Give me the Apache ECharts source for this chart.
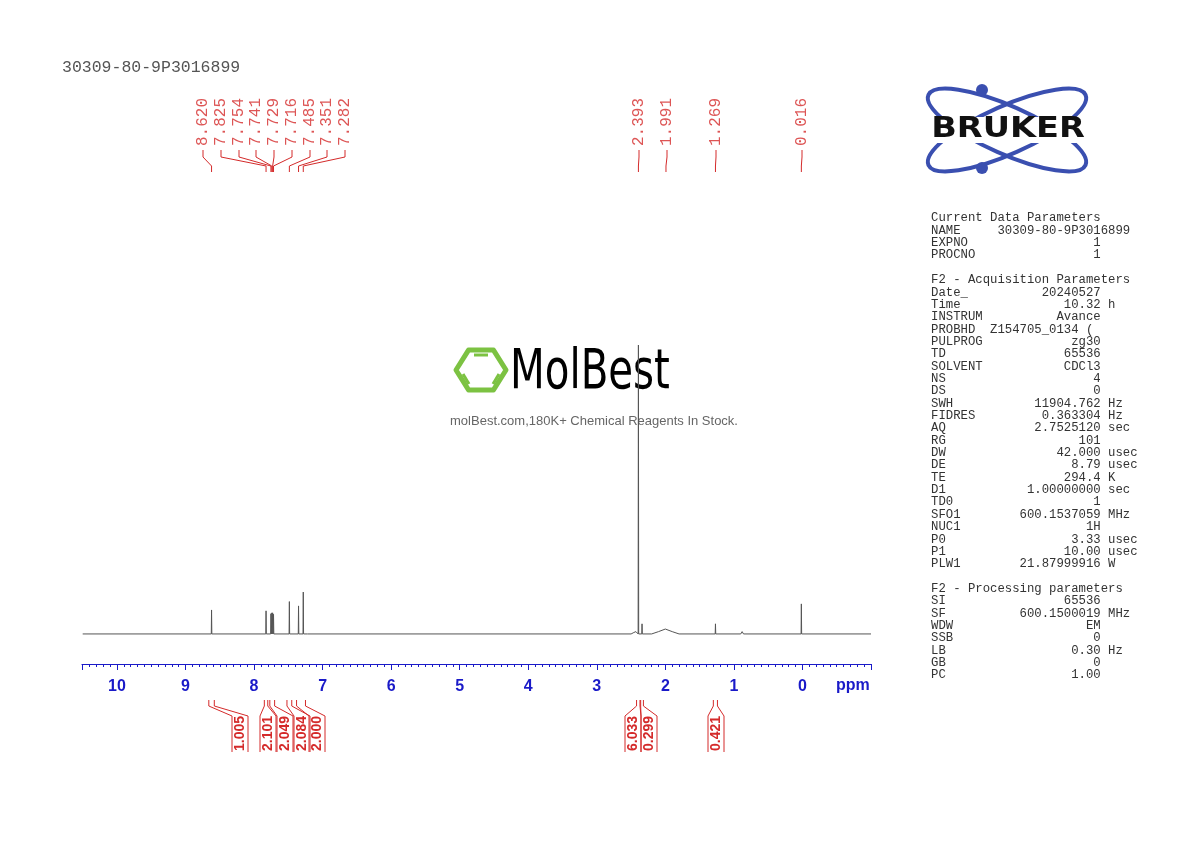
<!doctype html>
<html>
<head>
<meta charset="UTF-8">
<title>NMR 30309-80-9P3016899</title>
<script src="https://cdn.jsdelivr.net/npm/echarts@6/dist/echarts.min.js"></script>
<style>
  html, body { margin: 0; padding: 0; background: #fff; }
  #main { width: 1190px; height: 842px; }
</style>
</head>
<body>
<div id="main"></div>
<script>
// spectrum points (ppm, relative intensity, 2.393 = 100)
var specPpm = [10.5, 8.624, 8.620, 8.616, 7.829, 7.825, 7.821,
  7.758, 7.754, 7.748, 7.741, 7.735, 7.729, 7.722, 7.716, 7.712,
  7.489, 7.485, 7.481, 7.355, 7.351, 7.347, 7.286, 7.282, 7.278, 7.22,
  2.50, 2.46, 2.43, 2.397, 2.393, 2.389, 2.344, 2.34, 2.336,
  2.2, 2.1, 2.0, 1.9, 1.8, 1.273, 1.269, 1.265, 0.90, 0.88, 0.86,
  0.020, 0.016, 0.012, -1.0];
var specInt = [0, 0, 8.3, 0, 0, 8, 0,
  0, 7, 0, 7.3, 0, 7.3, 0, 6.8, 0,
  0, 11.2, 0, 0, 9.7, 0, 0, 14.5, 0, 0,
  0, 0.5, 0.8, 0, 100, 0, 0, 3.5, 0,
  0, 0.8, 1.7, 0.8, 0, 0, 3.5, 0, 0, 0.8, 0,
  0, 10.4, 0, 0];

// peak picking labels
var peakLabels = ['8.620', '7.825', '7.754', '7.741', '7.729', '7.716', '7.485', '7.351', '7.282', '2.393', '1.991', '1.269', '0.016'];
var peakTextX = [203, 221, 239, 256, 274, 292, 310, 327, 345, 639, 667, 716, 802];

// integrals
var intValues = ['1.005', '2.101', '2.049', '2.084', '2.000', '6.033', '0.299', '0.421'];
var intFrom = [8.66, 7.85, 7.77, 7.52, 7.38, 2.42, 2.36, 1.30];
var intTo = [8.58, 7.80, 7.70, 7.45, 7.25, 2.37, 2.32, 1.24];
var intTextX = [240, 268, 285, 302, 317, 633, 649, 716];

// acquisition / processing parameters
var paramLines = [
  'Current Data Parameters',
  'NAME     30309-80-9P3016899',
  'EXPNO                 1',
  'PROCNO                1',
  '',
  'F2 - Acquisition Parameters',
  'Date_          20240527',
  'Time              10.32 h',
  'INSTRUM          Avance',
  'PROBHD  Z154705_0134 (',
  'PULPROG            zg30',
  'TD                65536',
  'SOLVENT           CDCl3',
  'NS                    4',
  'DS                    0',
  'SWH           11904.762 Hz',
  'FIDRES         0.363304 Hz',
  'AQ            2.7525120 sec',
  'RG                  101',
  'DW               42.000 usec',
  'DE                 8.79 usec',
  'TE                294.4 K',
  'D1           1.00000000 sec',
  'TD0                   1',
  'SFO1        600.1537059 MHz',
  'NUC1                 1H',
  'P0                 3.33 usec',
  'P1                10.00 usec',
  'PLW1        21.87999916 W',
  '',
  'F2 - Processing parameters',
  'SI                65536',
  'SF          600.1500019 MHz',
  'WDW                  EM',
  'SSB                   0',
  'LB                 0.30 Hz',
  'GB                    0',
  'PC                 1.00'
];

var chart = echarts.init(document.getElementById('main'));
var blue = '#1a1ac8';
var red = '#d42a2a';

var spec = specPpm.map(function (p, i) { return [p, specInt[i]]; });

chart.setOption({
  animation: false,
  backgroundColor: '#fff',
  grid: { left: 82, right: 319, top: 345, bottom: 178 },
  xAxis: {
    type: 'value', inverse: true, min: -1, max: 10.51, interval: 1,
    axisLine: { onZero: false, lineStyle: { color: blue, width: 1.2 } },
    axisTick: { length: 6, lineStyle: { color: blue } },
    minorTick: { show: true, splitNumber: 10, length: 3, lineStyle: { color: blue } },
    splitLine: { show: false },
    axisLabel: {
      color: blue, fontFamily: 'Liberation Sans', fontWeight: 'bold', fontSize: 16,
      margin: 15, showMaxLabel: false, showMinLabel: false
    }
  },
  yAxis: { type: 'value', min: -10.4, max: 100, show: false },
  series: [{
    type: 'line', data: spec, symbol: 'none',
    lineStyle: { color: '#555', width: 1 }
  }]
});

function px(ppm) { return chart.convertToPixel({ xAxisIndex: 0 }, ppm); }

var g = [];
g.push({ type: 'text', left: 62, top: 59, style: { text: '30309-80-9P3016899', fill: '#555', font: '16.5px "Liberation Mono"' } });
g.push({ type: 'text', x: 836, y: 686, style: { text: 'ppm', fill: blue, font: 'bold 16px "Liberation Sans"', verticalAlign: 'middle' } });

// peak labels
var peakPpm = peakLabels.map(Number);
peakLabels.forEach(function (t, i) {
  var tx = peakTextX[i], p = px(peakPpm[i]);
  g.push({ type: 'text', x: tx, y: 146, rotation: Math.PI / 2,
    style: { text: t, fill: red, font: '16px "Liberation Mono"', align: 'left', verticalAlign: 'middle', opacity: 0.8 } });
  g.push({ type: 'polyline', shape: { points: [[tx, 150], [tx, 157], [p, 166], [p, 172]] },
    style: { stroke: red, lineWidth: 1, fill: null } });
});

// integrals
intValues.forEach(function (t, i) {
  var a = px(intFrom[i]), b = px(intTo[i]), cx = intTextX[i];
  var l = cx - 8, r = cx + 8;
  g.push({ type: 'polyline', shape: { points: [[a, 700], [a, 706], [l, 716], [l, 752]] }, style: { stroke: red, lineWidth: 1, fill: null } });
  g.push({ type: 'polyline', shape: { points: [[b, 700], [b, 706], [r, 716], [r, 752]] }, style: { stroke: red, lineWidth: 1, fill: null } });
  g.push({ type: 'text', x: cx, y: 751, rotation: Math.PI / 2,
    style: { text: t, fill: red, font: 'bold 14px "Liberation Sans"', align: 'left', verticalAlign: 'middle' } });
});

// parameters
g.push({ type: 'text', left: 931, top: 212,
  style: { text: paramLines.join('\n'), fill: '#333', font: '12.3px "Liberation Mono"', lineHeight: 12.35 } });

// Bruker logo
g.push({ type: 'ellipse', shape: { cx: 0, cy: 0, rx: 86, ry: 24 }, x: 1007, y: 130, rotation: 0.42,
  style: { stroke: '#3a4fb0', lineWidth: 4, fill: null } });
g.push({ type: 'ellipse', shape: { cx: 0, cy: 0, rx: 86, ry: 24 }, x: 1007, y: 130, rotation: -0.42,
  style: { stroke: '#3a4fb0', lineWidth: 4, fill: null } });
g.push({ type: 'circle', shape: { cx: 982, cy: 90, r: 6 }, style: { fill: '#3a4fb0' } });
g.push({ type: 'circle', shape: { cx: 982, cy: 168, r: 6 }, style: { fill: '#3a4fb0' } });
g.push({ type: 'rect', shape: { x: 924, y: 117, width: 168, height: 26 }, style: { fill: '#fff' } });
g.push({ type: 'text', x: 1008, y: 130, scaleX: 1.2,
  style: { text: 'BRUKER', fill: '#111', font: '900 28px "DejaVu Sans"', align: 'center', verticalAlign: 'middle' } });

// MolBest watermark
var hex = [];
for (var k = 0; k < 6; k++) { var an = Math.PI / 3 * k; hex.push([481 + 25 * Math.cos(an), 370 + 23 * Math.sin(an)]); }
g.push({ type: 'polygon', shape: { points: hex }, style: { stroke: '#7cc242', lineWidth: 5, fill: null, lineJoin: 'round' } });
g.push({ type: 'line', shape: { x1: 474, y1: 355, x2: 488, y2: 355 }, style: { stroke: '#7cc242', lineWidth: 3 } });
g.push({ type: 'line', shape: { x1: 463, y1: 374, x2: 469, y2: 384 }, style: { stroke: '#7cc242', lineWidth: 3 } });
g.push({ type: 'line', shape: { x1: 499, y1: 374, x2: 493, y2: 384 }, style: { stroke: '#7cc242', lineWidth: 3 } });
g.push({ type: 'text', x: 510, y: 373, scaleX: 0.8,
  style: { text: 'MolBest', fill: '#000', font: '56px "DejaVu Sans Condensed", "DejaVu Sans"', verticalAlign: 'middle' } });
g.push({ type: 'text', x: 594, y: 421,
  style: { text: 'molBest.com,180K+ Chemical Reagents In Stock.', fill: '#666', font: '13px "Liberation Sans"', align: 'center', verticalAlign: 'middle' } });

chart.setOption({ graphic: g });
</script>
</body>
</html>
